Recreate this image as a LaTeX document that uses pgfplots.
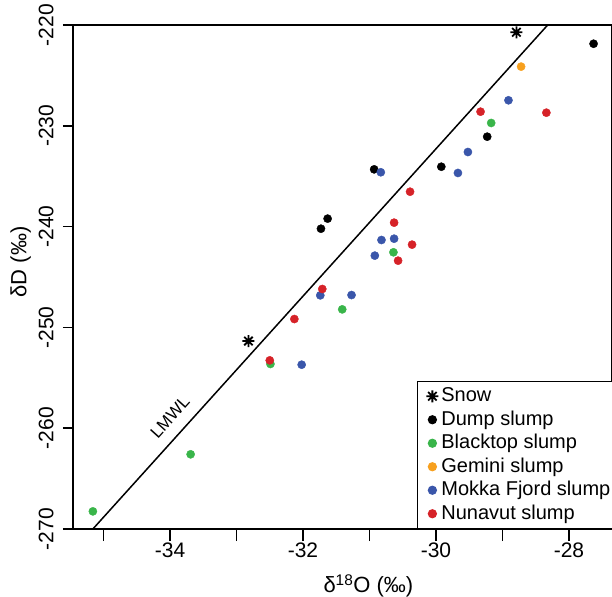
\documentclass[border=0pt]{standalone}
\usepackage{pgfplots}
\pgfplotsset{compat=1.18}
\usepackage{fontspec}
\setmainfont{Liberation Sans}

\definecolor{dumpc}{RGB}{0,0,0}
\definecolor{blackc}{RGB}{57,181,74}
\definecolor{geminic}{RGB}{247,160,30}
\definecolor{mokkac}{RGB}{58,86,170}
\definecolor{nunac}{RGB}{214,34,40}

% eight-armed asterisk for the snow samples
\pgfdeclareplotmark{snow}{%
  \pgfsetlinewidth{1.8bp}%
  \pgfpathmoveto{\pgfpointpolar{0}{\pgfplotmarksize}}\pgfpathlineto{\pgfpointpolar{180}{\pgfplotmarksize}}%
  \pgfpathmoveto{\pgfpointpolar{45}{\pgfplotmarksize}}\pgfpathlineto{\pgfpointpolar{225}{\pgfplotmarksize}}%
  \pgfpathmoveto{\pgfpointpolar{90}{\pgfplotmarksize}}\pgfpathlineto{\pgfpointpolar{270}{\pgfplotmarksize}}%
  \pgfpathmoveto{\pgfpointpolar{135}{\pgfplotmarksize}}\pgfpathlineto{\pgfpointpolar{315}{\pgfplotmarksize}}%
  \pgfusepathqstroke}

\begin{document}
\begin{tikzpicture}
\begin{axis}[
    scale only axis,
    width=539bp, height=504bp,
    xmin=-35.459, xmax=-27.353,
    ymin=-270, ymax=-220,
    axis line style={line width=1.5bp},
    tick align=outside,
    xtick pos=bottom, ytick pos=left,
    xtick={-35,-34,...,-28},
    xticklabels={,-34,,-32,,-30,,-28},
    ytick={-270,-260,...,-220},
    yticklabels={-270,-260,-250,-240,-230,-220},
    xtick style={line width=1.5bp, black, /pgfplots/major tick length=12bp},
    ytick style={line width=1.5bp, black, /pgfplots/major tick length=10bp},
    ticklabel style={font=\fontsize{21bp}{25bp}\selectfont, inner sep=0pt},
    xticklabel style={anchor=north, yshift=-9bp},
    yticklabel style={xshift=-15bp, rotate=90, anchor=south},
    xlabel={δ\textsuperscript{18}O (‰)},
    ylabel={δD (‰)},
    label style={font=\fontsize{22bp}{26bp}\selectfont},
    xlabel style={at={(axis description cs:0.548,-0.113)}, anchor=center},
    ylabel style={at={(axis description cs:-0.097,0.53)}, anchor=center},
    legend cell align=left,
    legend image code/.code={\draw[#1] plot coordinates {(0bp,0bp)};},
    legend style={
        at={(axis description cs:0.638,0)}, anchor=south west,
        draw=black, line width=1bp,
        font=\fontsize{20bp}{23bp}\selectfont,
        inner xsep=9bp, inner ysep=5bp,
        row sep=4bp, column sep=2bp,
        nodes={inner xsep=1bp, inner ysep=0pt, text height=15bp, text depth=4.5bp},
    },
]
\coordinate (BL) at (rel axis cs:0,0);
\coordinate (TR) at (rel axis cs:1,1);

% local meteoric water line
\addplot[line width=1.5bp, black, forget plot] coordinates {(-35.16,-270) (-28.32,-220)};
\node[rotate=47.9, font=\fontsize{17bp}{20bp}\selectfont] at (axis cs:-34.0,-258.9) {LMWL};

\addplot[only marks, mark=snow, mark size=6bp, black] coordinates {
    (-28.79,-220.72) (-32.82,-251.35)
};
\addlegendentry{Snow}

\addplot[only marks, mark=*, mark size=4.1bp, dumpc] coordinates {
    (-27.63,-221.86) (-29.23,-231.08) (-29.92,-234.06)
    (-30.93,-234.32) (-31.63,-239.21) (-31.73,-240.21)
};
\addlegendentry{Dump slump}

\addplot[only marks, mark=*, mark size=4.1bp, blackc] coordinates {
    (-29.17,-229.72) (-30.64,-242.55) (-31.41,-248.21)
    (-32.49,-253.63) (-33.69,-262.59) (-35.16,-268.25)
};
\addlegendentry{Blacktop slump}

\addplot[only marks, mark=*, mark size=4.1bp, geminic] coordinates {
    (-28.72,-224.13)
};
\addlegendentry{Gemini slump}

\addplot[only marks, mark=*, mark size=4.1bp, mokkac] coordinates {
    (-28.91,-227.47) (-29.52,-232.60) (-29.67,-234.68)
    (-30.83,-234.61) (-30.82,-241.33) (-30.63,-241.20)
    (-30.92,-242.88) (-31.74,-246.82) (-31.27,-246.79)
    (-32.02,-253.70)
};
\addlegendentry{Mokka Fjord slump}

\addplot[only marks, mark=*, mark size=4.1bp, nunac] coordinates {
    (-29.33,-228.60) (-28.34,-228.70) (-30.39,-236.54)
    (-30.63,-239.61) (-30.36,-241.79) (-30.57,-243.38)
    (-31.71,-246.19) (-32.13,-249.17) (-32.50,-253.27)
};
\addlegendentry{Nunavut slump}
\end{axis}
\pgfresetboundingbox
\path[use as bounding box] ([xshift=-73bp,yshift=-68bp]BL) rectangle ([yshift=25bp]TR);
\end{tikzpicture}
\end{document}
